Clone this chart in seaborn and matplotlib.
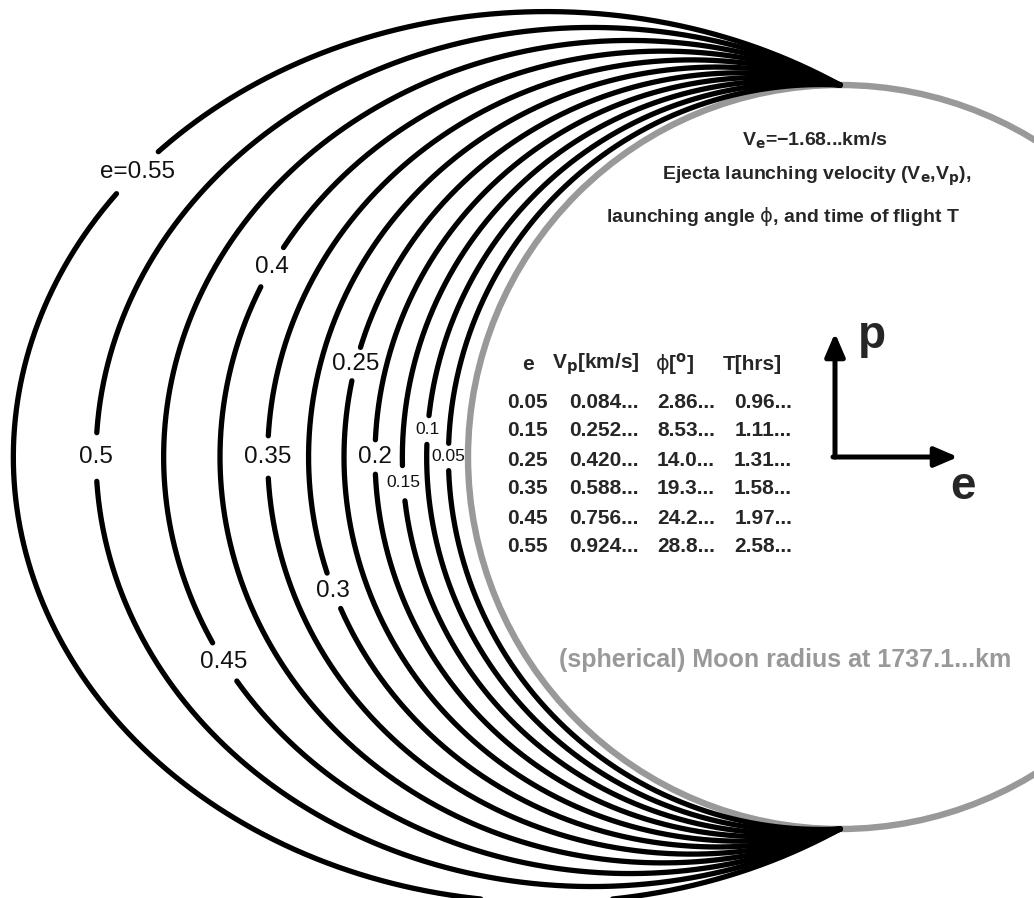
import numpy as np
import pandas as pd
import matplotlib
matplotlib.use("Agg")
import matplotlib.pyplot as plt
import seaborn as sns

# trajectory eccentricities, outer arc first
ecc = [0.55, 0.5, 0.45, 0.4, 0.35, 0.3, 0.25, 0.2, 0.15, 0.1, 0.05]
ecc_labels = ["e=0.55", "0.5", "0.45", "0.4", "0.35", "0.3", "0.25", "0.2", "0.15", "0.1", "0.05"]
# where each inline label sits on its arc (angle from moon centre, deg)
label_angle = [157.9, 180, 198.4, 161.5, 180, 194.8, 169.1, 180, 183.4, 176.2, 180]
label_size = [17.5, 17.5, 17.5, 17.5, 17.5, 17.5, 17.5, 17.5, 12.5, 12.5, 12.5]
gap_px = [29, 24, 22, 22, 20, 18, 17, 17, 17, 14, 13]

# table inside the moon
tab_e = [0.05, 0.15, 0.25, 0.35, 0.45, 0.55]
tab_vp = [0.084, 0.252, 0.420, 0.588, 0.756, 0.924]
tab_phi = [2.86, 8.53, 14.0, 19.3, 24.2, 28.8]
tab_T = [0.96, 1.11, 1.31, 1.58, 1.97, 2.58]

v_e = -1.68
moon_km = 1737.1

# pixel layout of the original picture (moon radius = 1 data unit)
SCALE, CX, CY = 372.0, 840.0, 457.0
W, H = 1034, 898


def pix(px, py):
    return (px - CX) / SCALE, (CY - py) / SCALE


sns.set_style("white")
plt.rcParams["font.family"] = ["Liberation Sans", "DejaVu Sans"]
plt.rcParams["mathtext.fontset"] = "dejavusans"

# build the arcs r = R / (1 + e cos(theta)) on the far side of the moon
theta = np.radians(np.linspace(90, 270, 1441))
rows = []
for e, ang, gap in zip(ecc, label_angle, gap_px):
    r = 1.0 / (1.0 + e * np.cos(theta))
    x, y = r * np.cos(theta), r * np.sin(theta)
    a = np.radians(ang)
    ra = 1.0 / (1.0 + e * np.cos(a))
    lx, ly = ra * np.cos(a), ra * np.sin(a)
    keep = np.hypot(x - lx, y - ly) > gap / SCALE
    seg = np.cumsum(np.r_[0, np.diff(keep.astype(int)) != 0])
    for xi, yi, k, s in zip(x, y, keep, seg):
        if k:
            rows.append((xi, yi, f"{e}-{s}"))
arcs = pd.DataFrame(rows, columns=["x", "y", "unit"])

fig = plt.figure(figsize=(W / 100, H / 100), dpi=100)
ax = fig.add_axes([0, 0, 1, 1])

ax.add_patch(plt.Circle((0, 0), 1.0, fill=False, ec="#999999", lw=4.6, zorder=2))
sns.lineplot(data=arcs, x="x", y="y", units="unit", estimator=None, sort=False,
             color="black", lw=3.8, ax=ax, zorder=3, legend=False)

for e, txt, ang, fs in zip(ecc, ecc_labels, label_angle, label_size):
    a = np.radians(ang)
    ra = 1.0 / (1.0 + e * np.cos(a))
    ax.text(ra * np.cos(a), ra * np.sin(a), txt, ha="center", va="center",
            fontsize=fs, color="#111111", zorder=4)

# header text
ve_txt = f"V$_\\mathbf{{e}}$={v_e:.2f}...km/s".replace("-", "\u2212")
ax.text(*pix(815, 141), ve_txt, ha="center", va="center", fontsize=14, fontweight="bold")
ax.text(*pix(817, 176), "Ejecta launching velocity (V$_\\mathbf{e}$,V$_\\mathbf{p}$),",
        ha="center", va="center", fontsize=14, fontweight="bold")
ax.text(*pix(783, 217), "launching angle $\\mathrm{\\phi}$, and time of flight T",
        ha="center", va="center", fontsize=14, fontweight="bold")

# table
hy = 364
ax.text(*pix(528, hy), "e", ha="center", va="center", fontsize=15, fontweight="bold")
ax.text(*pix(640, hy), "V$_\\mathbf{p}$[km/s]", ha="right", va="center", fontsize=15, fontweight="bold")
ax.text(*pix(675, hy), "$\\mathrm{\\phi}$[$^\\mathbf{o}$]", ha="center", va="center", fontsize=15, fontweight="bold")
ax.text(*pix(752, hy), "T[hrs]", ha="center", va="center", fontsize=15, fontweight="bold")
for i, (e, vp, ph, t) in enumerate(zip(tab_e, tab_vp, tab_phi, tab_T)):
    py = 402 + 29 * i
    ax.text(*pix(527, py), f"{e:.2f}", ha="center", va="center", fontsize=15, fontweight="bold")
    ax.text(*pix(639, py), f"{vp:.3f}...", ha="right", va="center", fontsize=15, fontweight="bold")
    ax.text(*pix(715, py), format(ph, "#.3g") + "...", ha="right", va="center", fontsize=15, fontweight="bold")
    ax.text(*pix(792, py), f"{t:.2f}...", ha="right", va="center", fontsize=15, fontweight="bold")

ax.text(*pix(785, 660), f"(spherical) Moon radius at {moon_km:.1f}...km",
        ha="center", va="center", fontsize=18, fontweight="bold", color="#999999")

# e / p direction arrows
arrow = dict(arrowstyle="-|>,head_length=0.7,head_width=0.3", lw=3.6, color="black",
             shrinkA=0, shrinkB=0, mutation_scale=20)
ax.annotate("", xy=pix(835, 333), xytext=pix(835, 457), arrowprops=arrow)
ax.annotate("", xy=pix(958, 457), xytext=pix(833, 457), arrowprops=arrow)
ax.text(*pix(872, 336), "p", ha="center", va="center", fontsize=33, fontweight="bold")
ax.text(*pix(963, 487), "e", ha="center", va="center", fontsize=33, fontweight="bold")

ax.set_xlim(*sorted([pix(0, 0)[0], pix(W, 0)[0]]))
ax.set_ylim(pix(0, H)[1], pix(0, 0)[1])
ax.set_aspect("equal")
ax.axis("off")

fig.savefig("out.png", dpi=100)
